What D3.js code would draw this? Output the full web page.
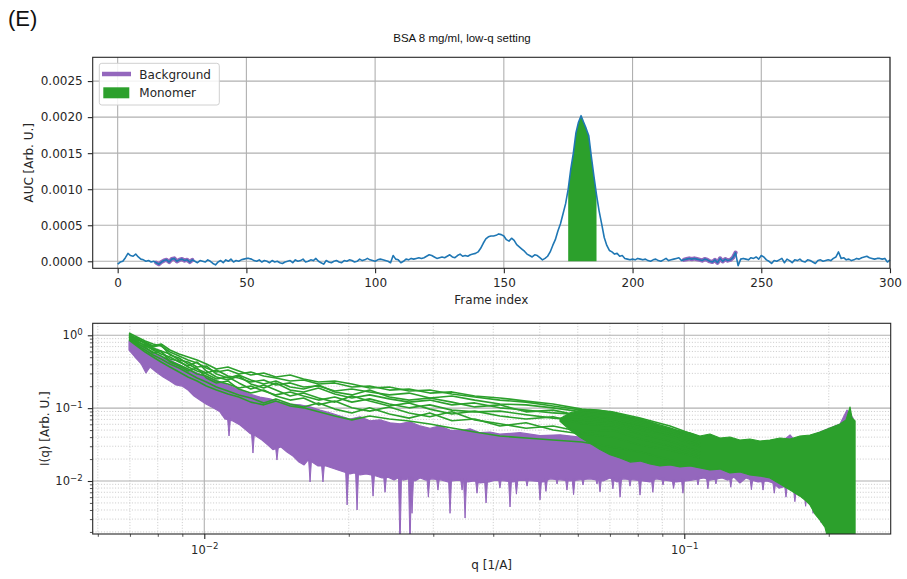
<!DOCTYPE html>
<html>
<head>
<meta charset="utf-8">
<script src="https://cdn.jsdelivr.net/npm/d3@7"></script>
<style>
  body { margin: 0; background: #fff; }
  svg { display: block; }
</style>
</head>
<body>
<svg id="fig" width="907" height="579"></svg>
<script>
// ---------------- data ----------------
// Elution profile: area under the curve per frame, in units of 1e-5.
const AUC_UNIT = 1e-5;
const aucE5 = [
  -4, -1, 0, 5, 11, 8, 7, 10, 6, 3,
  2, 0, 1, -1, 0, -2, -4, -1, 1, 2,
  -1, 3, 4, 0, 2, 3, 1, 2, -1, 2,
  0, -2, 1, 0, -1, 2, 0, -3, -5, -1,
  1, -2, 2, 0, 3, -1, 1, 0, 2, 3,
  4, 4, 3, 1, 0, 2, -1, 1, 0, -2,
  1, -1, 0, -2, -3, -1, 0, 1, -2, 2,
  0, 1, 3, -1, 0, 2, 1, 4, 0, -2,
  -4, 1, -1, -2, 0, 1, -1, -2, 1, 0,
  2, 1, -1, 0, 3, 1, 2, 4, 2, 1,
  0, 2, 3, 2, 1, 0, -2, 8, 3, 2,
  -2, 0, 3, 2, 4, 3, 4, 5, 4, 5,
  7, 9, 8, 6, 4, 5, 6, 5, 7, 9,
  6, 5, 8, 10, 7, 8, 7, 9, 10, 11,
  13, 18, 25, 31, 34, 35, 35, 36, 38, 37,
  35, 30, 28, 32, 29, 23, 20, 17, 14, 10,
  8, 6, 9, 8, 5, 2, 4, 7, 13, 22,
  30, 42, 52, 66, 80, 100, 128, 150, 178, 193,
  202, 193, 184, 174, 145, 118, 92, 70, 52, 33,
  22, 15, 13, 10, 11, 7, 8, 4, 3, 2,
  3, 2, 4, 3, 2, 3, 1, 0, 2, 3,
  1, 0, 2, 4, 1, 2, 3, 4, 5, 1,
  2, 3, 4, 3, 4, 3, 2, 1, 3, 2,
  0, -1, 2, -2, 4, 0, 3, 1, 2, 5,
  12, -6, 3, 4, 3, 2, 5, 4, 6, 3,
  8, 6, 2, 0, -3, 1, 0, 2, 4, -2,
  3, 1, -2, 2, 1, 3, 0, -1, 2, 1,
  -1, -3, 1, 2, 0, 1, 2, 1, 4, 6,
  13, 4, 5, 2, 3, 1, 2, 4, 3, 5,
  6, 7, 5, 4, 3, 4, 4, 3, 4, -1,
  2
];
const backgroundFrames = [[15, 29], [220, 240]];
const monomerFrames = [175, 186];
const frameTicks = [0, 50, 100, 150, 200, 250, 300];
const aucTicks = [0, 0.0005, 0.001, 0.0015, 0.002, 0.0025];

// Monomer-frame scattering curves at low and middle q, where single curves separate.
const qLine = [0.00697, 0.00724, 0.00753, 0.00782, 0.00813, 0.00848, 0.00886, 0.00925,
  0.00966, 0.0101, 0.0106, 0.0112, 0.0118, 0.0125, 0.0133, 0.0141, 0.0151, 0.0161,
  0.0173, 0.0187, 0.0203, 0.0221, 0.0243, 0.0267, 0.0295, 0.0328, 0.0366, 0.0413,
  0.0468, 0.0533, 0.0612, 0.0707, 0.0809, 0.0934, 0.1078];
const monomerCurves = [
  [1.075, 0.948, 0.835, 0.760, 0.713, 0.590, 0.520, 0.458, 0.417, 0.356, 0.313, 0.334, 0.294, 0.313, 0.276, 0.259, 0.236, 0.243, 0.215, 0.222, 0.195, 0.201, 0.177, 0.183, 0.161, 0.167, 0.147, 0.138, 0.125, 0.114, 0.097, 0.089, 0.0732, 0.0569, 0.0402],
  [1.009, 0.862, 0.784, 0.691, 0.736, 0.537, 0.488, 0.404, 0.345, 0.304, 0.334, 0.276, 0.259, 0.229, 0.243, 0.208, 0.222, 0.195, 0.201, 0.172, 0.183, 0.167, 0.152, 0.161, 0.138, 0.147, 0.129, 0.114, 0.111, 0.101, 0.089, 0.081, 0.0645, 0.0501, 0.0365],
  [0.948, 0.809, 0.736, 0.628, 0.554, 0.504, 0.430, 0.379, 0.430, 0.324, 0.268, 0.243, 0.276, 0.215, 0.189, 0.222, 0.177, 0.167, 0.189, 0.156, 0.138, 0.152, 0.134, 0.121, 0.129, 0.111, 0.118, 0.101, 0.094, 0.086, 0.081, 0.071, 0.0587, 0.0471, 0.0322],
  [0.918, 0.784, 0.669, 0.590, 0.520, 0.444, 0.391, 0.345, 0.294, 0.276, 0.236, 0.215, 0.189, 0.201, 0.172, 0.152, 0.167, 0.147, 0.129, 0.142, 0.121, 0.134, 0.114, 0.101, 0.111, 0.094, 0.089, 0.091, 0.081, 0.073, 0.069, 0.063, 0.0501, 0.0415, 0.0293],
  [0.978, 0.835, 0.713, 0.648, 0.590, 0.473, 0.444, 0.367, 0.324, 0.294, 0.251, 0.268, 0.222, 0.183, 0.208, 0.177, 0.147, 0.161, 0.138, 0.121, 0.147, 0.125, 0.107, 0.118, 0.097, 0.083, 0.091, 0.078, 0.071, 0.076, 0.061, 0.057, 0.0442, 0.0354, 0.0250],
  [0.890, 0.736, 0.628, 0.537, 0.473, 0.404, 0.356, 0.304, 0.259, 0.229, 0.195, 0.172, 0.152, 0.138, 0.118, 0.134, 0.114, 0.104, 0.118, 0.097, 0.086, 0.101, 0.083, 0.073, 0.086, 0.067, 0.071, 0.057, 0.063, 0.0501, 0.0442, 0.0402, 0.0312, 0.0266, 0.0207],
  [0.862, 0.713, 0.590, 0.504, 0.430, 0.367, 0.313, 0.268, 0.236, 0.201, 0.177, 0.156, 0.142, 0.121, 0.111, 0.125, 0.107, 0.101, 0.089, 0.078, 0.069, 0.078, 0.071, 0.0666, 0.0606, 0.0534, 0.0471, 0.0415, 0.0389, 0.0365, 0.0343, 0.0293, 0.0250, 0.0194, 0.0161],
  [1.042, 0.890, 0.809, 0.713, 0.760, 0.628, 0.554, 0.504, 0.458, 0.404, 0.345, 0.367, 0.324, 0.285, 0.304, 0.268, 0.285, 0.251, 0.229, 0.236, 0.215, 0.189, 0.195, 0.172, 0.177, 0.156, 0.142, 0.129, 0.121, 0.107, 0.094, 0.083, 0.071, 0.0534, 0.0389],
  [0.978, 0.918, 0.760, 0.669, 0.609, 0.554, 0.458, 0.430, 0.367, 0.379, 0.294, 0.259, 0.285, 0.243, 0.215, 0.236, 0.195, 0.183, 0.208, 0.167, 0.152, 0.177, 0.142, 0.129, 0.138, 0.121, 0.104, 0.111, 0.089, 0.094, 0.078, 0.067, 0.055, 0.0442, 0.0332],
  [0.948, 0.760, 0.691, 0.571, 0.609, 0.430, 0.379, 0.324, 0.356, 0.259, 0.222, 0.236, 0.183, 0.161, 0.177, 0.147, 0.129, 0.138, 0.111, 0.125, 0.101, 0.091, 0.104, 0.086, 0.076, 0.089, 0.069, 0.061, 0.053, 0.057, 0.047, 0.050, 0.0377, 0.0302, 0.0227]
];

// At higher q the many overlapping curves merge into solid bands: upper and lower edges, [q, I].
const monomerUpper = [[0.0551,0.072],[0.05780,0.086],[0.06064,0.093],[0.06361,0.096],[0.06675,0.094],[0.07003,0.089],[0.07345,0.083],[0.07708,0.076],[0.08087,0.071],[0.08483,0.065],[0.08901,0.057],[0.09338,0.052],[0.09795,0.049],[0.1028,0.046],[0.1078,0.0415],[0.1131,0.0442],[0.1187,0.0389],[0.1245,0.0402],[0.1306,0.0365],[0.1370,0.0377],[0.1438,0.0354],[0.1508,0.0365],[0.1583,0.0389],[0.1661,0.0377],[0.1742,0.0415],[0.1828,0.0428],[0.1918,0.0471],[0.2012,0.0534],[0.2111,0.0606],[0.2173,0.0688],[0.2215,0.1037],[0.2236,0.0732],[0.2269,0.0666]];
const monomerLower = [[0.0551,0.066],[0.05780,0.050],[0.06064,0.040],[0.06361,0.033],[0.06675,0.027],[0.07003,0.0230],[0.07345,0.0207],[0.07708,0.0182],[0.08087,0.0188],[0.08483,0.0171],[0.08901,0.0161],[0.09338,0.0166],[0.09795,0.0156],[0.1028,0.0161],[0.1078,0.0151],[0.1131,0.0142],[0.1187,0.0146],[0.1245,0.0129],[0.1306,0.0133],[0.1370,0.0121],[0.1438,0.0117],[0.1508,0.0110],[0.1583,0.0091],[0.1661,0.0075],[0.1742,0.0062],[0.1784,0.0055],[0.1828,0.0047],[0.1873,0.0035],[0.1918,0.0029],[0.1965,0.0023],[0.2012,0.0012],[0.2269,0.0012]];
const backgroundUpper = [[0.00697,0.835],[0.00735,0.713],[0.00771,0.590],[0.00809,0.520],[0.00848,0.458],[0.00890,0.391],[0.00934,0.334],[0.00979,0.294],[0.01028,0.259],[0.01078,0.229],[0.01131,0.201],[0.01187,0.177],[0.01245,0.156],[0.01306,0.142],[0.01370,0.134],[0.01438,0.121],[0.01508,0.114],[0.01583,0.111],[0.01661,0.104],[0.01742,0.094],[0.01828,0.086],[0.01918,0.078],[0.02012,0.071],[0.02111,0.076],[0.02215,0.067],[0.02323,0.069],[0.02438,0.063],[0.02557,0.061],[0.02683,0.065],[0.02815,0.057],[0.02953,0.053],[0.03098,0.057],[0.03251,0.050],[0.03411,0.049],[0.03578,0.052],[0.03754,0.046],[0.03939,0.047],[0.04130,0.044],[0.04548,0.046],[0.05006,0.042],[0.05508,0.043],[0.06064,0.040],[0.06675,0.040],[0.07345,0.0365],[0.08087,0.0343],[0.08901,0.0312],[0.09795,0.0293],[0.1078,0.0284],[0.1187,0.0266],[0.1306,0.0275],[0.1438,0.0284],[0.1508,0.0302],[0.1583,0.0332],[0.1661,0.0428],[0.1701,0.0354],[0.1742,0.0365],[0.1828,0.0415],[0.1918,0.0471],[0.2012,0.0534],[0.2111,0.0606],[0.2183,0.0943],[0.2247,0.0732]];
const backgroundLower = [[0.00697,0.628],[0.00717,0.504],[0.00739,0.404],[0.00756,0.304],[0.00771,0.367],[0.00794,0.313],[0.00821,0.268],[0.00848,0.236],[0.00873,0.208],[0.00899,0.201],[0.00925,0.177],[0.00952,0.147],[0.00979,0.129],[0.01008,0.114],[0.01043,0.101],[0.01078,0.089],[0.01104,0.071],[0.01147,0.0666],[0.01187,0.0587],[0.01222,0.0501],[0.01245,0.0450],[0.01281,0.0415],[0.01319,0.0365],[0.01357,0.0312],[0.01390,0.0270],[0.01445,0.0293],[0.01487,0.0250],[0.01530,0.0220],[0.01575,0.0182],[0.01614,0.0166],[0.01645,0.0194],[0.01677,0.0182],[0.01726,0.0161],[0.01793,0.0161],[0.01846,0.0151],[0.01899,0.0142],[0.01955,0.0133],[0.02012,0.0125],[0.02051,0.0129],[0.02111,0.0121],[0.02173,0.0125],[0.02280,0.0117],[0.02346,0.0110],[0.02414,0.0113],[0.02485,0.0103],[0.02533,0.0110],[0.02594,0.0103],[0.02657,0.0107],[0.02748,0.0100],[0.02815,0.0110],[0.02897,0.0103],[0.02982,0.0107],[0.03128,0.0103],[0.03219,0.0097],[0.03283,0.0100],[0.03378,0.0103],[0.03544,0.0097],[0.03647,0.0100],[0.03754,0.0094],[0.03920,0.0097],[0.04035,0.0103],[0.04230,0.0100],[0.04398,0.0097],[0.04548,0.0103],[0.04840,0.0100],[0.05079,0.0097],[0.05252,0.0107],[0.05588,0.0103],[0.05780,0.0100],[0.05978,0.0103],[0.06361,0.0107],[0.06772,0.0100],[0.07003,0.0110],[0.07243,0.0097],[0.07452,0.0107],[0.07933,0.0103],[0.08204,0.0100],[0.08483,0.0097],[0.08731,0.0107],[0.09338,0.0100],[0.09611,0.0097],[0.1008,0.0100],[0.1038,0.0103],[0.1099,0.0110],[0.1131,0.0103],[0.1199,0.0110],[0.1233,0.0103],[0.1269,0.0113],[0.1306,0.0094],[0.1344,0.0110],[0.1383,0.0103],[0.1424,0.0097],[0.1487,0.0100],[0.1530,0.0094],[0.1575,0.0080],[0.1661,0.0088],[0.1710,0.0071],[0.1759,0.0075],[0.1810,0.0058],[0.1891,0.0055],[0.1965,0.0040],[0.2012,0.0012],[0.2247,0.0012]];
// Single noisy points of background curves that drop below the band, [q, I].
const backgroundDips = [[0.01126,0.0415],[0.01263,0.0242],[0.01417,0.0194],[0.01661,0.0097],[0.01767,0.0097],[0.01984,0.0047],[0.02081,0.0040],[0.02247,0.0062],[0.02380,0.0070],[0.02557,0.0012],[0.02683,0.0012],[0.02709,0.0036],[0.02930,0.0060],[0.03068,0.0075],[0.03251,0.0036],[0.03444,0.0075],[0.03494,0.0031],[0.03700,0.0068],[0.03864,0.0050],[0.04130,0.0080],[0.04335,0.0044],[0.04470,0.0066],[0.04704,0.0085],[0.05006,0.0055],[0.05150,0.0072],[0.05432,0.0091],[0.05696,0.0075],[0.05880,0.0065],[0.06152,0.0088],[0.06579,0.0091],[0.06675,0.0071],[0.07100,0.0078],[0.07350,0.0060],[0.07708,0.0085],[0.08087,0.0064],[0.08600,0.0070],[0.09030,0.0088],[0.09500,0.0079],[0.09937,0.0068],[0.1068,0.0088],[0.1120,0.0078],[0.1164,0.0091],[0.1250,0.0082],[0.1380,0.0076],[0.1459,0.0075],[0.1540,0.0068],[0.1629,0.0060],[0.1700,0.0052],[0.1790,0.0045],[0.1855,0.0036],[0.1927,0.0027]];

const qMajorTicks = [0.01, 0.1];
const iMajorTicks = [0.01, 0.1, 1];

// ---------------- style ----------------
const FONT = "DejaVu Sans, sans-serif";
const INK = "#262626";
const GRID = "#b0b0b0";
const BLUE = "#1f77b4", PURPLE = "#9467bd", GREEN = "#2ca02c";

const svg = d3.select("#fig");
svg.append("rect").attr("width", 907).attr("height", 579).attr("fill", "#fff");

svg.append("text").attr("x", 8).attr("y", 26)
  .attr("font-family", "Liberation Sans, Arial, sans-serif").attr("font-size", 22)
  .attr("fill", "#111").text("(E)");
svg.append("text").attr("x", 462).attr("y", 42.3).attr("text-anchor", "middle")
  .attr("font-family", "Liberation Sans, Arial, sans-serif").attr("font-size", 11.5)
  .attr("fill", "#111").text("BSA 8 mg/ml, low-q setting");

function styleAxis(g, size) {
  g.attr("font-family", FONT).attr("font-size", size || 12);
  g.select(".domain").remove();
  g.selectAll(".tick line").attr("stroke", INK).attr("stroke-width", 1.1);
  g.selectAll(".tick text").attr("fill", INK);
}

// ---------------- top panel: AUC vs frame ----------------
const P1 = { left: 92.7, right: 890, top: 57.3, bottom: 268.3 };
const xF = d3.scaleLinear().domain([-9.7, 300]).range([P1.left, P1.right]);
const yA = d3.scaleLinear().domain([-0.0000972, 0.00283]).range([P1.bottom, P1.top]);
const profile = aucE5.map((v, i) => ({ f: i, v: v * AUC_UNIT }));

const g1 = svg.append("g");
g1.append("g").selectAll("line").data(frameTicks).join("line")
  .attr("x1", d => xF(d)).attr("x2", d => xF(d)).attr("y1", P1.top).attr("y2", P1.bottom)
  .attr("stroke", GRID).attr("stroke-width", 1.1);
g1.append("g").selectAll("line").data(aucTicks).join("line")
  .attr("x1", P1.left).attr("x2", P1.right).attr("y1", d => yA(d)).attr("y2", d => yA(d))
  .attr("stroke", GRID).attr("stroke-width", 1.1);

// monomer window filled under the curve
const monoSel = profile.filter(d => d.f >= monomerFrames[0] && d.f <= monomerFrames[1]);
g1.append("path").datum(monoSel)
  .attr("d", d3.area().x(d => xF(d.f)).y0(yA(0)).y1(d => yA(d.v)))
  .attr("fill", GREEN);

// background windows, broad purple traces
const lineF = d3.line().x(d => xF(d.f)).y(d => yA(d.v));
backgroundFrames.forEach(([a, b]) => {
  g1.append("path").datum(profile.filter(d => d.f >= a && d.f <= b))
    .attr("d", lineF).attr("fill", "none").attr("stroke", PURPLE)
    .attr("stroke-width", 4.2).attr("stroke-linejoin", "round").attr("stroke-linecap", "round");
});

g1.append("path").datum(profile).attr("d", lineF)
  .attr("fill", "none").attr("stroke", BLUE).attr("stroke-width", 1.6)
  .attr("stroke-linejoin", "round");

g1.append("rect").attr("x", P1.left).attr("y", P1.top)
  .attr("width", P1.right - P1.left).attr("height", P1.bottom - P1.top)
  .attr("fill", "none").attr("stroke", INK).attr("stroke-width", 1.1);

g1.append("g").attr("transform", `translate(0,${P1.bottom})`)
  .call(d3.axisBottom(xF).tickValues(frameTicks).tickSize(4.9).tickPadding(5.6).tickFormat(d3.format("d")))
  .call(g => styleAxis(g));
g1.append("g").attr("transform", `translate(${P1.left},0)`)
  .call(d3.axisLeft(yA).tickValues(aucTicks).tickSize(4.9).tickPadding(5.1).tickFormat(d3.format(".4f")))
  .call(g => styleAxis(g));

g1.append("text").attr("x", (P1.left + P1.right) / 2).attr("y", 304)
  .attr("text-anchor", "middle").attr("font-family", FONT).attr("font-size", 12)
  .attr("fill", INK).text("Frame index");
g1.append("text").attr("transform", `translate(32.5,${(P1.top + P1.bottom) / 2}) rotate(-90)`)
  .attr("text-anchor", "middle").attr("font-family", FONT).attr("font-size", 12)
  .attr("fill", INK).text("AUC [Arb. U.]");

// legend
const lg = g1.append("g");
lg.append("rect").attr("x", 99.3).attr("y", 63.3).attr("width", 120).attr("height", 41.7)
  .attr("rx", 2.5).attr("fill", "#fff").attr("fill-opacity", 0.85)
  .attr("stroke", "#d0d0d0").attr("stroke-width", 1);
lg.append("line").attr("x1", 102).attr("x2", 131).attr("y1", 74).attr("y2", 74)
  .attr("stroke", PURPLE).attr("stroke-width", 4.5);
lg.append("rect").attr("x", 103.3).attr("y", 87.3).attr("width", 26).attr("height", 11)
  .attr("fill", GREEN);
lg.append("text").attr("x", 139.3).attr("y", 78.6).attr("font-family", FONT)
  .attr("font-size", 12).attr("fill", INK).text("Background");
lg.append("text").attr("x", 139.3).attr("y", 96.6).attr("font-family", FONT)
  .attr("font-size", 12).attr("fill", INK).text("Monomer");

// ---------------- bottom panel: I(q) on log-log axes ----------------
const P2 = { left: 92.7, right: 890.7, top: 323.3, bottom: 534 };
const xQ = d3.scaleLog().domain([0.005855, 0.2692]).range([P2.left, P2.right]);
const yI = d3.scaleLog().domain([0.001873, 1.461]).range([P2.bottom, P2.top]);
const qMinor = xQ.ticks().filter(t => !qMajorTicks.some(m => Math.abs(m - t) < 1e-9));
const iMinor = yI.ticks().filter(t => !iMajorTicks.some(m => Math.abs(m - t) < 1e-9));

const g2 = svg.append("g");
g2.append("defs").append("clipPath").attr("id", "clipQ").append("rect")
  .attr("x", P2.left).attr("y", P2.top).attr("width", P2.right - P2.left).attr("height", P2.bottom - P2.top);

const minorStyle = s => s.attr("stroke", "#c4c4c4").attr("stroke-width", 0.9).attr("stroke-dasharray", "1,1.8");
g2.append("g").selectAll("line").data(qMinor).join("line")
  .attr("x1", d => xQ(d)).attr("x2", d => xQ(d)).attr("y1", P2.top).attr("y2", P2.bottom).call(minorStyle);
g2.append("g").selectAll("line").data(iMinor).join("line")
  .attr("x1", P2.left).attr("x2", P2.right).attr("y1", d => yI(d)).attr("y2", d => yI(d)).call(minorStyle);
g2.append("g").selectAll("line").data(qMajorTicks).join("line")
  .attr("x1", d => xQ(d)).attr("x2", d => xQ(d)).attr("y1", P2.top).attr("y2", P2.bottom)
  .attr("stroke", GRID).attr("stroke-width", 1.1);
g2.append("g").selectAll("line").data(iMajorTicks).join("line")
  .attr("x1", P2.left).attr("x2", P2.right).attr("y1", d => yI(d)).attr("y2", d => yI(d))
  .attr("stroke", GRID).attr("stroke-width", 1.1);

const data2 = g2.append("g").attr("clip-path", "url(#clipQ)");
const bandLine = d3.line().x(d => xQ(d[0])).y(d => yI(d[1]));
function band(upper, lower, colour) {
  const ring = upper.concat(lower.slice().reverse());
  data2.append("path").attr("d", bandLine(ring) + "Z")
    .attr("fill", colour).attr("stroke", colour).attr("stroke-width", 1.2)
    .attr("stroke-linejoin", "round");
}
band(backgroundUpper, backgroundLower, PURPLE);

// narrow downward dips hanging from the lower edge of the background band
const byQ = d3.bisector(d => d[0]).left;
function lowerEdgeAt(q) {
  const i = Math.min(Math.max(byQ(backgroundLower, q), 1), backgroundLower.length - 1);
  const a = backgroundLower[i - 1], b = backgroundLower[i];
  const t = (Math.log(q) - Math.log(a[0])) / (Math.log(b[0]) - Math.log(a[0]));
  return Math.exp(Math.log(a[1]) + t * (Math.log(b[1]) - Math.log(a[1])));
}
const DIP_HALF = 1.5;
data2.append("g").selectAll("path").data(backgroundDips).join("path")
  .attr("d", ([q, v]) => {
    const x = xQ(q), y0 = yI(lowerEdgeAt(q)) - 2, y1 = yI(v);
    return `M${x - DIP_HALF},${y0}L${x},${y1}L${x + DIP_HALF},${y0}Z`;
  })
  .attr("fill", PURPLE).attr("stroke", PURPLE).attr("stroke-width", 1)
  .attr("stroke-linejoin", "round");

band(monomerUpper, monomerLower, GREEN);

const curveLine = d3.line().x((d, i) => xQ(qLine[i])).y(d => yI(d));
data2.append("g").selectAll("path").data(monomerCurves).join("path")
  .attr("d", curveLine).attr("fill", "none").attr("stroke", GREEN)
  .attr("stroke-width", 1.6).attr("stroke-linejoin", "round");

g2.append("rect").attr("x", P2.left).attr("y", P2.top)
  .attr("width", P2.right - P2.left).attr("height", P2.bottom - P2.top)
  .attr("fill", "none").attr("stroke", INK).attr("stroke-width", 1.1);

function powerLabel(text) {
  text.each(function (v) {
    const exp = Math.round(Math.log10(v));
    const t = d3.select(this).text(null);
    t.append("tspan").text("10");
    t.append("tspan").attr("dy", "-0.5em").attr("font-size", "0.75em")
      .text(exp < 0 ? "\u2212" + (-exp) : String(exp));
  });
}
g2.append("g").attr("transform", `translate(0,${P2.bottom})`)
  .call(d3.axisBottom(xQ).tickValues(qMajorTicks).tickSize(4.9).tickPadding(6.5))
  .call(g => styleAxis(g, 11.5))
  .call(g => g.selectAll(".tick text").call(powerLabel));
g2.append("g").attr("transform", `translate(0,${P2.bottom})`)
  .call(d3.axisBottom(xQ).tickValues(qMinor).tickSize(2.8).tickFormat(""))
  .call(g => styleAxis(g))
  .call(g => g.selectAll(".tick line").attr("stroke-width", 0.8));
g2.append("g").attr("transform", `translate(${P2.left},0)`)
  .call(d3.axisLeft(yI).tickValues(iMajorTicks).tickSize(4.9).tickPadding(5.1))
  .call(g => styleAxis(g, 11.5))
  .call(g => g.selectAll(".tick text").call(powerLabel));
g2.append("g").attr("transform", `translate(${P2.left},0)`)
  .call(d3.axisLeft(yI).tickValues(iMinor).tickSize(2.8).tickFormat(""))
  .call(g => styleAxis(g))
  .call(g => g.selectAll(".tick line").attr("stroke-width", 0.8));

g2.append("text").attr("x", (P2.left + P2.right) / 2).attr("y", 569)
  .attr("text-anchor", "middle").attr("font-family", FONT).attr("font-size", 12)
  .attr("fill", INK).text("q [1/A]");
g2.append("text").attr("transform", `translate(48.5,${(P2.top + P2.bottom) / 2}) rotate(-90)`)
  .attr("text-anchor", "middle").attr("font-family", FONT).attr("font-size", 12)
  .attr("fill", INK).text("I(q) [Arb. U.]");
</script>
</body>
</html>
